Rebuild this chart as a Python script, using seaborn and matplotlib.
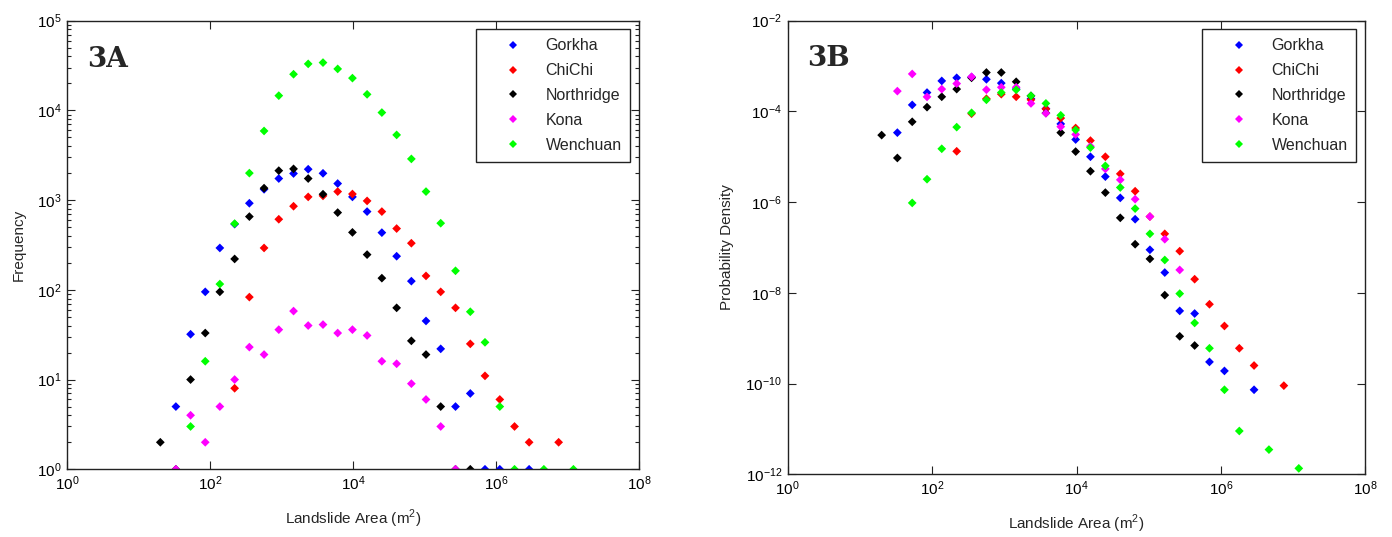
"""
Landslide area statistics for five earthquake inventories.
3A: frequency of landslide areas, 3B: probability density (log-log).
"""

import pandas as pd
import matplotlib
matplotlib.use("Agg")
import matplotlib.pyplot as plt
import seaborn as sns
from matplotlib.ticker import FixedLocator, LogLocator, NullLocator

# -------------------------------------
# Data
# -------------------------------------
AREA_BINS = [20, 33, 53, 85, 136, 219, 352, 565, 908, 1460, 2340, 3770, 6050,
             9730, 15600, 25100, 40400, 64900, 104000, 167000, 269000, 433000,
             695000, 1120000, 1800000, 2880000, 4630000, 7450000, 12000000]

EVENTS = ["Gorkha", "ChiChi", "Northridge", "Kona", "Wenchuan"]
COLORS = ["#0000ff", "#ff0000", "#000000", "#ff00ff", "#00ff00"]

# frequency per bin (None = empty bin)
gorkha_freq = [None, 5, 32, 95, 293, 540, 923, 1320, 1740, 1980, 2210, 1990, 1530,
               1086, 745, 434, 237, 125, 45, 22, 5, 7, 1, 1, None, 1, None, None, None]
chichi_freq = [None, None, None, None, None, 8, 83, 293, 612, 855, 1086, 1115, 1245,
               1170, 980, 745, 482, 331, 143, 95, 63, 25, 11, 6, 3, 2, None, 2, None]
northridge_freq = [2, 1, 10, 33, 95, 221, 655, 1360, 2130, 2230, 1740, 1164, 726,
                   437, 247, 135, 63, 27, 19, 5, 1, 1, None, None, None, None, None, None, None]
kona_freq = [None, 1, 4, 2, 5, 10, 23, 19, 36, 58, 40, 41, 33,
             36, 31, 16, 15, 9, 6, 3, 1, None, None, None, None, None, None, None, None]
wenchuan_freq = [None, None, 3, 16, 116, 547, 2000, 5900, 14600, 25300, 33000, 34100, 29000,
                 22900, 15100, 9460, 5330, 2880, 1245, 553, 163, 57, 26, 5, 1, None, 1, None, 1]

# probability density per bin
gorkha_pdf = [None, 3.4e-5, 1.39e-4, 2.6e-4, 4.7e-4, 5.5e-4, 5.7e-4, 5.1e-4, 4.2e-4, 3.1e-4,
              1.9e-4, 1.15e-4, 5.3e-5, 2.4e-5, 1.0e-5, 3.65e-6, 1.24e-6, 4.2e-7, 8.9e-8,
              2.8e-8, 4.0e-9, 3.5e-9, 3.0e-10, 1.9e-10, None, 7.3e-11, None, None, None]
chichi_pdf = [None, None, None, None, None, 1.32e-5, 8.9e-5, 1.9e-4, 2.4e-4, 2.1e-4,
              1.8e-4, 1.13e-4, 7.1e-5, 4.3e-5, 2.27e-5, 1.0e-5, 4.2e-6, 1.74e-6, 4.8e-7,
              2.0e-7, 8.3e-8, 2.0e-8, 5.6e-9, 1.86e-9, 6.0e-10, 2.5e-10, None, 9.0e-11, None]
northridge_pdf = [3.0e-5, 9.4e-6, 5.9e-5, 1.24e-4, 2.1e-4, 3.1e-4, 5.5e-4, 7.2e-4, 7.2e-4, 4.5e-4,
                  2.2e-4, 9.2e-5, 3.4e-5, 1.3e-5, 4.8e-6, 1.62e-6, 4.5e-7, 1.18e-7, 5.6e-8,
                  8.9e-9, 1.1e-9, 6.9e-10, None, None, None, None, None, None, None]
kona_pdf = [None, 2.8e-4, 6.7e-4, 2.09e-4, 3.1e-4, 4.1e-4, 5.8e-4, 3.0e-4, 3.4e-4, 3.4e-4,
            1.5e-4, 9.1e-5, 4.6e-5, 3.1e-5, 1.7e-5, 5.4e-6, 3.1e-6, 1.16e-6, 4.8e-7,
            1.52e-7, 3.2e-8, None, None, None, None, None, None, None, None]
wenchuan_pdf = [None, None, 9.6e-7, 3.2e-6, 1.5e-5, 4.5e-5, 9.3e-5, 1.8e-4, 2.6e-4, 3.0e-4,
                2.2e-4, 1.5e-4, 8.2e-5, 3.9e-5, 1.59e-5, 6.3e-6, 2.1e-6, 7.2e-7, 2.0e-7,
                5.3e-8, 9.6e-9, 2.17e-9, 6.0e-10, 7.3e-11, 9.0e-12, None, 3.5e-12, None, 1.35e-12]

X_TICKS = [1e0, 1e2, 1e4, 1e6, 1e8]
PDF_TICKS = [1e-12, 1e-10, 1e-8, 1e-6, 1e-4, 1e-2]


def long_form(series):
    rows = []
    for name, vals in zip(EVENTS, series):
        for a, v in zip(AREA_BINS, vals):
            if v is not None:
                rows.append((name, a, v))
    return pd.DataFrame(rows, columns=["event", "area", "value"])


freq_df = long_form([gorkha_freq, chichi_freq, northridge_freq, kona_freq, wenchuan_freq])
pdf_df = long_form([gorkha_pdf, chichi_pdf, northridge_pdf, kona_pdf, wenchuan_pdf])

# -------------------------------------
# Style
# -------------------------------------
sns.set_style("white")
plt.rcParams["font.family"] = ["Liberation Sans", "DejaVu Sans"]
plt.rcParams["mathtext.fontset"] = "custom"
plt.rcParams["mathtext.rm"] = "Liberation Sans"
plt.rcParams["axes.edgecolor"] = "#222222"
plt.rcParams["axes.linewidth"] = 1.0

fig = plt.figure(figsize=(13.92, 5.37), dpi=100)
ax_a = fig.add_axes([0.04835, 0.1261, 0.4109, 0.8354])
ax_b = fig.add_axes([0.5659, 0.1168, 0.4149, 0.8447])

for ax, df in [(ax_a, freq_df), (ax_b, pdf_df)]:
    sns.scatterplot(data=df, x="area", y="value", hue="event", hue_order=EVENTS,
                    palette=COLORS, marker="D", s=20, linewidth=0, ax=ax)
    ax.set_xscale("log")
    ax.set_yscale("log")
    ax.set_xlim(1, 1e8)
    ax.xaxis.set_major_locator(FixedLocator(X_TICKS))
    ax.xaxis.set_minor_locator(NullLocator())
    ax.tick_params(which="both", direction="in", bottom=True, left=True,
                   top=True, right=True, labelsize=11, colors="#222222",
                   labelcolor="black")
    ax.tick_params(which="major", length=6, width=0.8, pad=4)
    ax.tick_params(which="minor", length=3, width=0.8)
    ax.set_xlabel("Landslide Area (m$^\\mathdefault{2}$)", fontsize=11, labelpad=10)
    sns.move_legend(ax, "upper right", title=None, frameon=True, fancybox=False,
                    edgecolor="#222222", framealpha=1, fontsize=11.5,
                    borderpad=0.55, labelspacing=0.62, handlelength=3.5,
                    handletextpad=0.3, borderaxespad=0.55)
    ax.get_legend().get_frame().set_linewidth(1.0)

# 3A - frequency
ax_a.set_ylim(1, 1e5)
ax_a.yaxis.set_major_locator(LogLocator(base=10, numticks=10))
ax_a.yaxis.set_minor_locator(LogLocator(base=10, subs=range(2, 10), numticks=10))
ax_a.set_ylabel("Frequency", fontsize=11, labelpad=8)
ax_a.text(0.034, 0.8975, "3A", transform=ax_a.transAxes, fontsize=20,
          fontweight="bold", family="DejaVu Serif")

# 3B - probability density
ax_b.set_ylim(1e-12, 1e-2)
ax_b.yaxis.set_major_locator(FixedLocator(PDF_TICKS))
ax_b.yaxis.set_minor_locator(NullLocator())
ax_b.set_ylabel("Probability Density", fontsize=11, labelpad=8)
ax_b.text(0.034, 0.900, "3B", transform=ax_b.transAxes, fontsize=20,
          fontweight="bold", family="DejaVu Serif")

fig.savefig("out.png", dpi=100, facecolor="white")
